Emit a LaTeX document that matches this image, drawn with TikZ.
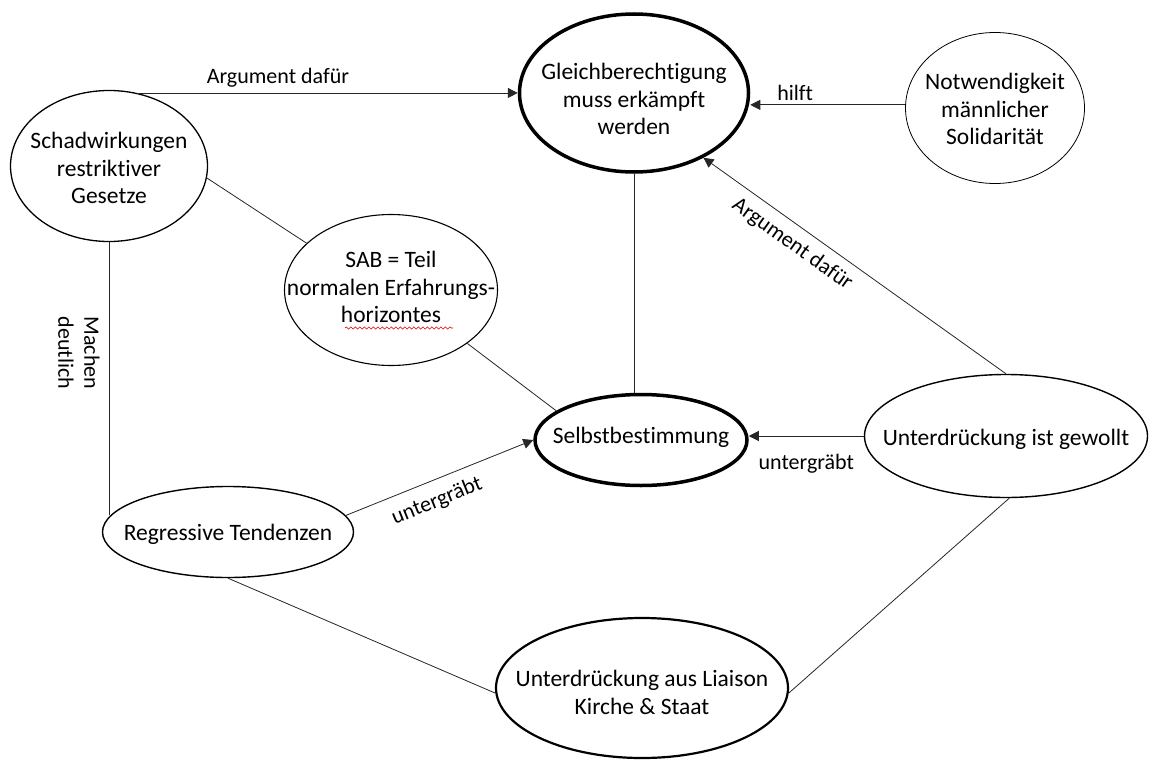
\documentclass[tikz,border=0pt]{standalone}
\usepackage{fontspec}
\setmainfont{Carlito}[Ligatures=NoCommon]
\usetikzlibrary{arrows.meta,shapes.geometric,decorations.pathmorphing}
\begin{document}
\begin{tikzpicture}[x=1pt,y=-1pt,
  bub/.style={ellipse, draw=black, inner sep=0pt},
  txt/.style={align=center, font=\fontsize{23.5}{27.5}\selectfont, inner sep=0pt},
  lbl/.style={font=\fontsize{22}{26}\selectfont, inner sep=2pt},
  conn/.style={draw=black!85, line width=0.8pt},
  arr/.style={conn, -{Triangle[length=10pt,width=10pt]}},
  arrl/.style={conn, {Triangle[length=10pt,width=10pt]}-},
]
\useasboundingbox (0,0) rectangle (1150,760);
\fill[white] (0,0) rectangle (1150,760);

% ellipses
\node[bub, minimum width=229, minimum height=158, line width=3.5pt] (gleich) at (634,93) {};
\node[bub, minimum width=179, minimum height=151, line width=0.8pt] (notw) at (995,108) {};
\node[bub, minimum width=197, minimum height=151, line width=1.3pt] (schad) at (109,166) {};
\node[bub, minimum width=213, minimum height=151, line width=1.1pt] (sab) at (391,290) {};
\node[bub, minimum width=212, minimum height=91, line width=3.5pt] (selbst) at (641,440) {};
\node[bub, minimum width=283, minimum height=123, line width=1.4pt] (gew) at (1006,436) {};
\node[bub, minimum width=251, minimum height=91, line width=1.4pt] (reg) at (228,532) {};
\node[bub, minimum width=292, minimum height=140, line width=2.2pt] (lia) at (642,688) {};

% texts
\node[txt] (gleich-t) at (634,99) {Gleichberechtigung\\muss erkämpft\\werden};
\node[txt] (notw-t) at (995,109) {Notwendigkeit\\männlicher\\Solidarität};
\node[txt] (schad-t) at (109,168) {Schadwirkungen\\restriktiver\\Gesetze};
\node[txt] (sab-t) at (391,287) {SAB = Teil\\normalen Erfahrungs-\\horizontes};
\node[txt] (selbst-t) at (641,437) {Selbstbestimmung};
\node[txt] (gew-t) at (1006,439) {Unterdrückung ist gewollt};
\node[txt] (reg-t) at (228,534.5) {Regressive Tendenzen};
\node[txt] (lia-t) at (642,692.5) {Unterdrückung aus Liaison\\Kirche \& Staat};

% spell-check underline
\draw[red!85!black, line width=0.6pt, decorate, decoration={snake, amplitude=1.1pt, segment length=4.5pt}]
  (345,328) -- (453,328);

% connectors
\draw[arr] (schad.69) -- node[lbl, pos=0.37, above=3.5pt] {Argument dafür} (schad.69 -| gleich.west);
\draw[arr] (notw.178) -- node[lbl, pos=0.71, above=2pt] {hilft} (notw.178 -| gleich.east);
\draw[arrl] (gleich.-43) -- node[lbl, pos=0.33, sloped, below=7pt] {Argument dafür} (gew.north);
\draw[conn] (gleich.south) -- (gleich.south |- selbst.north);
\draw[conn] (schad.-7) -- (sab.151);
\draw[conn] (sab.-35) -- (selbst.161);
\draw[conn] (schad.south) -- (schad.south |- reg.172);
\node[lbl, rotate=-90, align=center] (md) at (79,353) {Machen\\deutlich};
\draw[arr] (reg.8) -- node[lbl, pos=0.445, sloped, below=9pt] {untergräbt} (selbst.west);
\draw[arr] (gew.west) -- node[lbl, midway, below=16pt] {untergräbt} (gew.west -| selbst.east);
\draw[conn] (reg.south) -- (lia.182);
\draw[conn] (gew.-87) -- (lia.-2);
\end{tikzpicture}
\end{document}
